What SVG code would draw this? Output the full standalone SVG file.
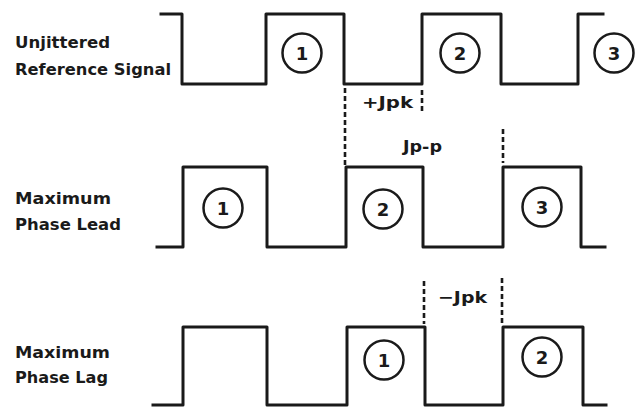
<svg xmlns="http://www.w3.org/2000/svg" width="636" height="407" viewBox="0 0 636 407">
<style>
.wave{fill:none;stroke:#1a1a1a;stroke-width:3;stroke-linejoin:round;stroke-linecap:square}
.circ{fill:none;stroke:#1a1a1a;stroke-width:2.5}
.num{font-family:"DejaVu Sans","Liberation Sans",Arial,sans-serif;font-weight:bold;font-size:18px;fill:#1a1a1a;text-anchor:middle}
.lbl{font-family:"DejaVu Sans","Liberation Sans",Arial,sans-serif;font-weight:bold;font-size:16.3px;fill:#1a1a1a}
.dash{fill:none;stroke:#1a1a1a;stroke-width:2.6;stroke-dasharray:5 3}
</style>
<rect width="636" height="407" fill="#ffffff"/>
<g id="labels">
<text class="lbl" x="15" y="48" textLength="95" lengthAdjust="spacingAndGlyphs">Unjittered</text>
<text class="lbl" x="15" y="75" textLength="156" lengthAdjust="spacingAndGlyphs">Reference Signal</text>
<text class="lbl" x="15" y="204" textLength="96" lengthAdjust="spacingAndGlyphs">Maximum</text>
<text class="lbl" x="15" y="230" textLength="106" lengthAdjust="spacingAndGlyphs">Phase Lead</text>
<text class="lbl" x="15" y="358" textLength="95" lengthAdjust="spacingAndGlyphs">Maximum</text>
<text class="lbl" x="15" y="383" textLength="93" lengthAdjust="spacingAndGlyphs">Phase Lag</text>
</g>
<g id="wave-reference">
<path class="wave" d="M161 14 H182 V84 H266 V14 H344 V84 H422 V14 H501 V84 H578 V14 H603"/>
<circle class="circ" cx="302" cy="53" r="19.5"/><text class="num" x="302" y="59.5">1</text>
<circle class="circ" cx="460" cy="53" r="19.5"/><text class="num" x="460" y="59.5">2</text>
<circle class="circ" cx="614" cy="53" r="19.5"/><text class="num" x="614" y="59.5">3</text>
</g>
<g id="wave-lead">
<path class="wave" d="M157 247 H183 V167 H267 V247 H346 V167 H423 V247 H503 V167 H581 V247 H605"/>
<circle class="circ" cx="223" cy="208" r="19.5"/><text class="num" x="223" y="214.5">1</text>
<circle class="circ" cx="383" cy="209" r="19.5"/><text class="num" x="383" y="215.5">2</text>
<circle class="circ" cx="542" cy="207" r="19.5"/><text class="num" x="542" y="213.5">3</text>
</g>
<g id="wave-lag">
<path class="wave" d="M153 405 H183 V327 H267 V405 H347 V327 H425 V405 H503 V327 H583 V405 H606"/>
<circle class="circ" cx="384" cy="360" r="19.5"/><text class="num" x="384" y="366.5">1</text>
<circle class="circ" cx="542" cy="357" r="19.5"/><text class="num" x="542" y="363.5">2</text>
</g>
<g id="connectors">
<line class="dash" x1="345" y1="88" x2="345" y2="165"/>
<line class="dash" x1="422" y1="90" x2="422" y2="112"/>
<line class="dash" x1="503" y1="129" x2="503" y2="163"/>
<line class="dash" x1="424" y1="281" x2="424" y2="324"/>
<line class="dash" x1="502" y1="278" x2="502" y2="324"/>
</g>
<g id="jitter-labels">
<text class="lbl" x="362" y="108" textLength="51" lengthAdjust="spacingAndGlyphs">+Jpk</text>
<text class="lbl" x="403" y="152" textLength="39" lengthAdjust="spacingAndGlyphs">Jp-p</text>
<text class="lbl" x="438" y="303" textLength="49" lengthAdjust="spacingAndGlyphs">−Jpk</text>
</g>
</svg>
